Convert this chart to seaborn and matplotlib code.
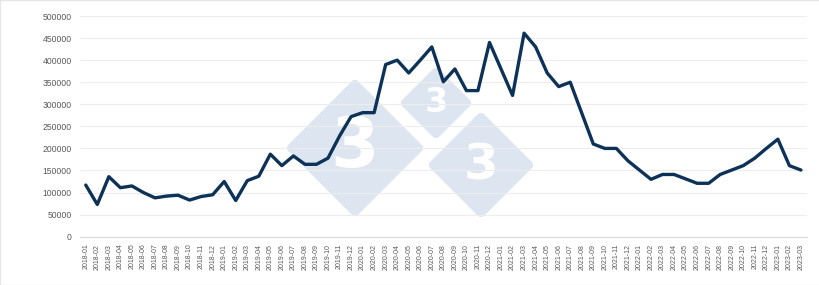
import matplotlib
matplotlib.use("Agg")
import matplotlib.pyplot as plt
from matplotlib.patches import Polygon, Rectangle
import seaborn as sns
import pandas as pd

months = [f"{y}-{m:02d}" for y in range(2018, 2024) for m in range(1, 13)][:63]
values = [
    117000, 73000, 136000, 111000, 115000, 100000, 88000, 92000, 94000, 83000, 91000, 95000,
    125000, 82000, 127000, 137000, 187000, 161000, 183000, 164000, 164000, 178000, 228000, 272000,
    281000, 281000, 390000, 400000, 371000, 400000, 430000, 351000, 380000, 331000, 331000, 440000,
    380000, 320000, 461000, 430000, 371000, 340000, 350000, 280000, 210000, 200000, 200000, 172000,
    151000, 130000, 141000, 141000, 131000, 121000, 121000, 141000, 151000, 161000, 178000, 200000,
    221000, 161000, 151000,
]
yticks = list(range(0, 500001, 50000))

df = pd.DataFrame({"month": months, "value": values})

sns.set_theme(style="white")
plt.rcParams["font.family"] = ["Liberation Sans", "DejaVu Sans"]

W, H = 820, 285
fig = plt.figure(figsize=(W / 100, H / 100), dpi=100)
ax = fig.add_axes([80 / W, 1 - 236.7 / H, (806.7 - 80) / W, (236.7 - 16) / H])
ax.set_zorder(5)
ax.set_facecolor("none")

# watermark (decoration)
wm = "#dde5f0"
def diamond(cx, cy, r, fs):
    pts = [(cx, cy - r), (cx + r, cy), (cx, cy + r), (cx - r, cy)]
    pts = [(x / W, 1 - y / H) for x, y in pts]
    fig.patches.append(Polygon(pts, closed=True, transform=fig.transFigure,
                               facecolor=wm, edgecolor=wm, linewidth=6,
                               joinstyle="round", zorder=0))
    fig.text(cx / W, 1 - cy / H, "3", color="white", fontsize=fs, fontweight="bold",
             ha="center", va="center", zorder=1, family="DejaVu Sans")

fig.patches.append(Rectangle((0, 0), 1, 1, transform=fig.transFigure, fill=False,
                             edgecolor="#e6e6e6", linewidth=1, zorder=0))
diamond(355, 148, 64, 50)
diamond(436, 103, 31, 24)
diamond(481, 165, 48, 36)

sns.lineplot(data=df, x="month", y="value", ax=ax, color="#0c3357", linewidth=2.4,
             sort=False, zorder=5)

ax.set_xlim(-0.5, len(months) - 0.5)
ax.set_ylim(0, 500000)
ax.set_yticks(yticks)
ax.set_yticklabels([str(v) for v in yticks])
ax.set_xticks(range(len(months)))
ax.set_xticklabels(months, rotation=90)
ax.tick_params(axis="y", labelsize=6.2, colors="#595959", length=0, pad=6)
ax.tick_params(axis="x", labelsize=5, colors="#595959", length=0, pad=5)
ax.grid(axis="y", color="#ededed", linewidth=0.8)
ax.set_axisbelow(True)
for s in ["top", "right", "left"]:
    ax.spines[s].set_visible(False)
ax.spines["bottom"].set_color("#d9d9d9")
ax.spines["bottom"].set_linewidth(0.8)
ax.set_xlabel("")
ax.set_ylabel("")

fig.savefig("out.png", dpi=100)
